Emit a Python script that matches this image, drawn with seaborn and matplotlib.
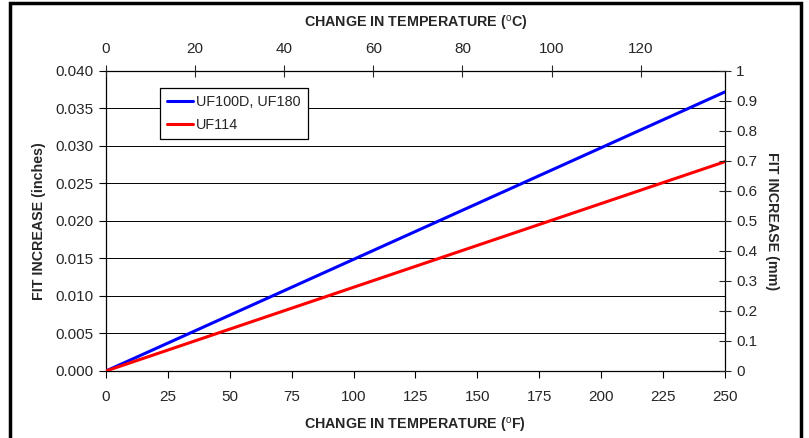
import matplotlib
matplotlib.use("Agg")
import matplotlib.pyplot as plt
import pandas as pd
import seaborn as sns
from matplotlib.patches import Rectangle

# datos
temp_f = [0, 250]
uf100d_uf180 = [0.0, 0.0372]
uf114 = [0.0, 0.0279]
series_names = ["UF100D, UF180", "UF114"]
colores = ["#0000ff", "#ff0000"]

x_ticks_f = [0, 25, 50, 75, 100, 125, 150, 175, 200, 225, 250]
y_ticks_in = [0.000, 0.005, 0.010, 0.015, 0.020, 0.025, 0.030, 0.035, 0.040]
y_ticks_mm = [0, 0.1, 0.2, 0.3, 0.4, 0.5, 0.6, 0.7, 0.8, 0.9, 1]
x_ticks_c = [0, 20, 40, 60, 80, 100, 120]

df = pd.DataFrame({
    "temp": temp_f * 2,
    "fit": uf100d_uf180 + uf114,
    "serie": [series_names[0]] * 2 + [series_names[1]] * 2,
})

sns.set_style("white")
plt.rcParams["font.family"] = ["Liberation Sans", "DejaVu Sans"]
plt.rcParams["mathtext.fontset"] = "custom"
plt.rcParams["mathtext.rm"] = "Liberation Sans"
plt.rcParams["mathtext.bf"] = "Liberation Sans:bold"

fig = plt.figure(figsize=(8.09, 4.38), dpi=100)
ax = fig.add_axes([0.131, 0.153, 0.765, 0.685])

sns.lineplot(data=df, x="temp", y="fit", hue="serie", palette=colores,
             linewidth=2.2, ax=ax, zorder=3)

ax.set_xlim(0, 250)
ax.set_ylim(0, 0.040)
ax.set_xticks(x_ticks_f)
ax.set_xticklabels([str(v) for v in x_ticks_f])
ax.set_yticks(y_ticks_in)
ax.set_yticklabels([f"{v:.3f}" for v in y_ticks_in])
ax.grid(axis="y", color="black", linewidth=0.7)
ax.grid(axis="x", visible=False)
ax.tick_params(axis="both", labelsize=11, length=5, width=0.8, color="black",
               bottom=True, left=True, direction="out", pad=4)
ax.tick_params(axis="x", pad=9)
for s in ax.spines.values():
    s.set_color("black")
    s.set_linewidth(0.9)

lab_size = 10.3
ax.set_xlabel(r"CHANGE IN TEMPERATURE ($^{\mathrm{o}}$F)", fontsize=lab_size, fontweight="bold", labelpad=8)
ax.set_ylabel("FIT INCREASE (inches)", fontsize=lab_size, fontweight="bold", labelpad=7)

leg = ax.legend(loc="upper left", bbox_to_anchor=(0.087, 0.943), borderaxespad=0,
                fontsize=10.4, frameon=True, fancybox=False, edgecolor="black",
                framealpha=1, handlelength=1.8, handletextpad=0.2, borderpad=0.5,
                labelspacing=0.6)
leg.get_frame().set_linewidth(0.9)

# eje derecho en mm
ax2 = ax.twinx()
ax2.set_ylim(0, 1)
ax2.set_yticks(y_ticks_mm)
ax2.set_yticklabels([f"{v:g}" for v in y_ticks_mm])
ax2.tick_params(axis="y", labelsize=11, length=8, width=0.8, direction="inout",
                right=True, pad=4)
ax2.set_ylabel("FIT INCREASE (mm)", fontsize=lab_size, fontweight="bold", rotation=270, labelpad=16)
for s in ax2.spines.values():
    s.set_visible(False)

# eje superior en grados C
ax3 = ax.twiny()
ax3.set_xlim(0, 250 * 5 / 9)
ax3.set_xticks(x_ticks_c)
ax3.set_xticklabels([str(v) for v in x_ticks_c])
ax3.tick_params(axis="x", labelsize=11, length=8, width=0.8, direction="inout",
                top=True, pad=7)
ax3.set_xlabel(r"CHANGE IN TEMPERATURE ($^{\mathrm{o}}$C)", fontsize=lab_size, fontweight="bold", labelpad=10)
for s in ax3.spines.values():
    s.set_visible(False)

# marco de la figura
fig.patches.append(Rectangle((0.0125, -0.05), 0.978, 1.043, transform=fig.transFigure,
                             fill=False, edgecolor="black", linewidth=2.5))

fig.savefig("out.png", dpi=100)
